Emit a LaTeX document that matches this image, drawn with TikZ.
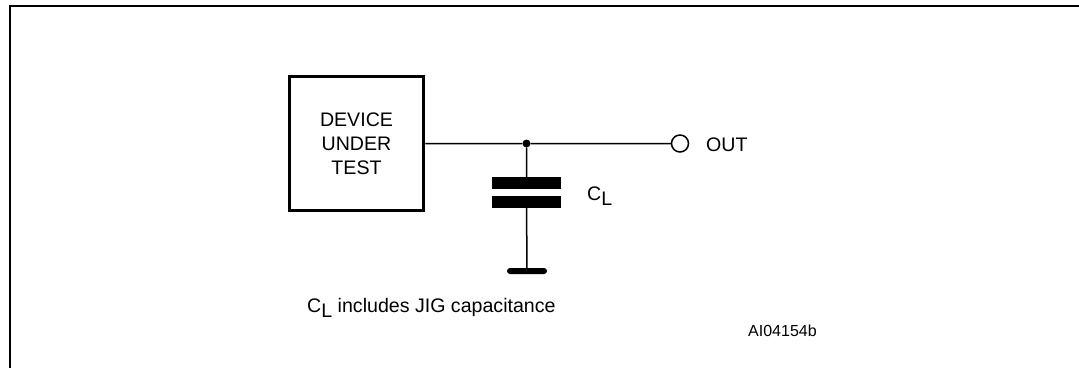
\documentclass[tikz,border=0pt]{standalone}
\usepackage{fontspec}
\setmainfont{Liberation Sans}
\usetikzlibrary{positioning}

\newcommand{\subL}{\raisebox{-5pt}{L}}

\begin{document}
\begin{tikzpicture}[x=1pt,y=-1pt,node distance=10pt,on grid,
    every node/.style={font=\fontsize{19.6}{24}\selectfont},
    wire/.style={line width=1.5pt},
    frameline/.style={line width=2pt},
    plate/.style={fill=black,minimum width=69pt,minimum height=12pt,inner sep=0pt},
    smalltext/.style={font=\fontsize{16}{19}\selectfont}]
   \useasboundingbox (0,0) rectangle (1079,367);
   \coordinate (fb) at (10,367);
   \coordinate (ft) at (10,5.5);
   \coordinate (fr) at (1079,5.5);
   \draw[frameline,line cap=rect] (fb) -- (ft) -- (fr);

   \node[draw,line width=3.5pt,minimum width=134pt,minimum height=134pt,align=center,inner sep=0pt] (dut) at (356.5,143.5) {DEVICE\\UNDER\\TEST};
   \node[circle,fill=black,inner sep=0pt,minimum size=8pt] (j) at (526.5,143.5) {};
   \node[circle,draw,wire,inner sep=0pt,minimum size=17pt] (o) at (680,143.5) {};
   \node[plate] (p1) at (526.5,183) {};
   \node[plate] (p2) at (526.5,202) {};
   \node[fill=black,rounded corners=3pt,minimum width=40pt,minimum height=6pt,inner sep=0pt] (g) at (527,271) {};

   \node[anchor=west,inner sep=0pt] (out) at (706,144.5) {OUT};
   \node[anchor=west,inner sep=0pt] (cl) at (587,196) {C\subL};
   \node[anchor=west,inner sep=0pt] (note) at (307,308) {C\subL{} includes JIG capacitance};
   \node[anchor=west,inner sep=0pt,smalltext] (ref) at (748,330.5) {AI04154b};

   \path[wire,draw]
    (dut.east) -- (j)
    (j) -- (o)
    (j) -- (p1)
    (p2) -- (g);
\end{tikzpicture}
\end{document}
